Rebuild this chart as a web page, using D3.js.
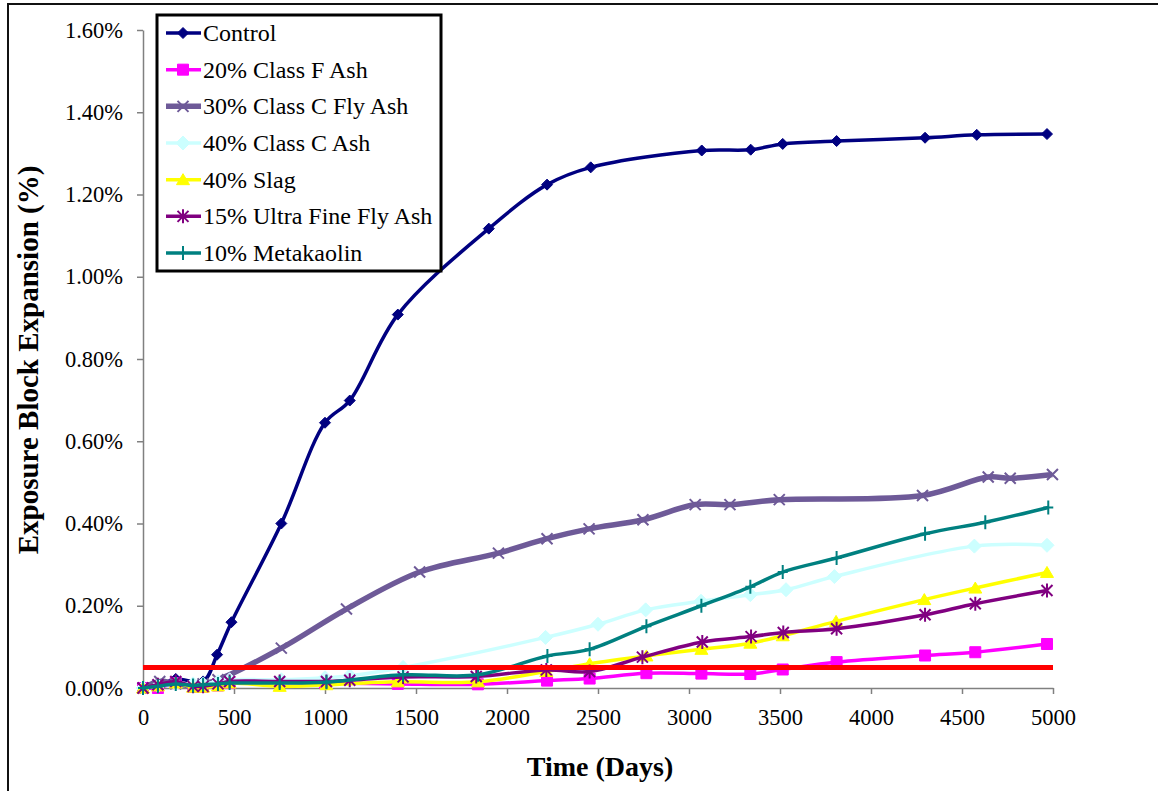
<!DOCTYPE html>
<html>
<head>
<meta charset="utf-8">
<script src="https://cdn.jsdelivr.net/npm/d3@7"></script>
<style>
body { margin: 0; background: #fff; }
svg { display: block; }
svg text { font-family: "Liberation Serif", "Times New Roman", "DejaVu Serif", serif; }
</style>
</head>
<body>
<svg id="chart" width="1158" height="791"></svg>
<script>
// legend / series names
var seriesNames = ["Control", "20% Class F Ash", "30% Class C Fly Ash", "40% Class C Ash",
                   "40% Slag", "15% Ultra Fine Fly Ash", "10% Metakaolin"];

// days and expansion (%)
var controlDays = [0, 82, 180, 330, 407, 486, 760, 1000, 1136, 1400, 1900, 2220, 2460, 3070, 3339, 3515, 3811, 4297, 4581, 4967];
var controlVals = [0, 0.006, 0.022, 0.016, 0.081, 0.160, 0.400, 0.645, 0.699, 0.908, 1.117, 1.224, 1.266, 1.307, 1.309, 1.323, 1.330, 1.338, 1.345, 1.347];

var classFDays = [0, 82, 180, 275, 330, 412, 476, 1000, 1400, 1840, 2220, 2454, 2766, 3068, 3337, 3515, 3811, 4297, 4573, 4967];
var classFVals = [0, 0, 0.012, 0.003, 0.003, 0.006, 0.012, 0.012, 0.010, 0.009, 0.018, 0.023, 0.036, 0.035, 0.034, 0.045, 0.063, 0.079, 0.087, 0.107];

var classC30Days = [0, 92, 180, 275, 330, 412, 760, 1118, 1520, 1953, 2220, 2451, 2747, 3034, 3225, 3496, 4283, 4644, 4765, 4997];
var classC30Vals = [0, 0.016, 0.010, 0.005, 0.010, 0.020, 0.097, 0.192, 0.282, 0.328, 0.363, 0.387, 0.409, 0.446, 0.446, 0.458, 0.468, 0.513, 0.510, 0.519];

var classC40Days = [0, 82, 180, 275, 330, 412, 476, 760, 1000, 1136, 1429, 2212, 2500, 2762, 3066, 3337, 3533, 3799, 4568, 4967];
var classC40Vals = [0, 0.005, 0.010, 0.010, 0.010, 0.015, 0.020, 0.020, 0.025, 0.030, 0.050, 0.123, 0.155, 0.190, 0.211, 0.227, 0.239, 0.271, 0.345, 0.347];

var slagDays = [0, 82, 180, 275, 330, 412, 476, 751, 1008, 1400, 1841, 2216, 2454, 2766, 3068, 3337, 3515, 3808, 4293, 4573, 4967];
var slagVals = [0, 0.005, 0.012, 0.002, 0.002, 0.005, 0.012, 0.004, 0.008, 0.015, 0.015, 0.040, 0.059, 0.078, 0.094, 0.109, 0.127, 0.162, 0.215, 0.243, 0.281];

var ultraDays = [0, 82, 180, 275, 330, 412, 476, 751, 1008, 1136, 1429, 1831, 2216, 2454, 2744, 3073, 3341, 3518, 3811, 4297, 4573, 4967];
var ultraVals = [0, 0.008, 0.016, 0.004, 0.004, 0.010, 0.016, 0.016, 0.016, 0.019, 0.027, 0.028, 0.044, 0.040, 0.075, 0.112, 0.125, 0.135, 0.144, 0.178, 0.205, 0.237];

var metaDays = [0, 82, 180, 275, 330, 412, 476, 751, 1008, 1429, 1841, 2222, 2454, 2766, 3068, 3337, 3515, 3811, 4297, 4628, 4974];
var metaVals = [0, 0.004, 0.010, 0.006, 0.008, 0.010, 0.012, 0.012, 0.014, 0.032, 0.032, 0.078, 0.094, 0.150, 0.200, 0.246, 0.282, 0.316, 0.375, 0.403, 0.439];

var limitValue = 0.05;   // red reference line

var xTicks = [0, 500, 1000, 1500, 2000, 2500, 3000, 3500, 4000, 4500, 5000];
var yTicks = [0, 0.2, 0.4, 0.6, 0.8, 1.0, 1.2, 1.4, 1.6];

var seriesColors = ["#000080", "#FF00FF", "#6E5A98", "#CCFFFF", "#FFFF00", "#800080", "#008080"];
var seriesWidths = [3.5, 3.5, 5.5, 3.5, 3.5, 3.5, 3.5];
var markerKinds = ["diamond", "square", "x", "bigdiamond", "triangle", "star", "plus"];

var allDays = [controlDays, classFDays, classC30Days, classC40Days, slagDays, ultraDays, metaDays];
var allVals = [controlVals, classFVals, classC30Vals, classC40Vals, slagVals, ultraVals, metaVals];

var serif = "'Liberation Serif', 'Times New Roman', 'DejaVu Serif', serif";

var svg = d3.select("#chart"),
    margin = {top: 30, right: 105, bottom: 103, left: 143},
    width = 910,
    height = 658;

// chart area frame
svg.append("rect")
    .attr("x", 8).attr("y", 4)
    .attr("width", 1170).attr("height", 800)
    .attr("fill", "none").attr("stroke", "#111").attr("stroke-width", 2);

var x = d3.scaleLinear().domain([0, 5000]).range([0, width]),
    y = d3.scaleLinear().domain([0, 1.6]).range([height, 0]);

var g = svg.append("g")
    .attr("transform", "translate(" + margin.left + "," + margin.top + ")");

var xAxis = d3.axisBottom(x).tickValues(xTicks).tickSize(6).tickSizeOuter(0).tickPadding(15)
    .tickFormat(d3.format("d"));
var yAxis = d3.axisLeft(y).tickValues(yTicks).tickSize(6).tickSizeOuter(0).tickPadding(14)
    .tickFormat(function(d) { return d.toFixed(2) + "%"; });

g.append("g")
    .attr("class", "axis axis--x")
    .attr("transform", "translate(0," + height + ")")
    .call(xAxis);

g.append("g")
    .attr("class", "axis axis--y")
    .call(yAxis);

g.selectAll(".axis")
    .attr("font-family", serif)
    .attr("font-size", 22.5);
g.selectAll(".axis path, .axis line")
    .attr("stroke", "#808080")
    .attr("stroke-width", 1.5);
g.selectAll(".axis text")
    .attr("fill", "#000")
    .attr("font-family", serif);

// axis titles
svg.append("text")
    .attr("x", 600).attr("y", 776)
    .attr("text-anchor", "middle")
    .attr("font-family", serif)
    .attr("font-size", 28).attr("font-weight", "bold")
    .text("Time (Days)");

svg.append("text")
    .attr("transform", "translate(38,360) rotate(-90)")
    .attr("text-anchor", "middle")
    .attr("font-family", serif)
    .attr("font-size", 29).attr("font-weight", "bold")
    .text("Exposure Block Expansion (%)");

function markerPath(kind) {
  if (kind == "diamond") return "M0,-5.5L5.5,0L0,5.5L-5.5,0Z";
  if (kind == "bigdiamond") return "M0,-7L7,0L0,7L-7,0Z";
  if (kind == "square") return "M-5.5,-5.5H5.5V5.5H-5.5Z";
  if (kind == "triangle") return "M0,-6L6.5,5L-6.5,5Z";
  if (kind == "x") return "M-5.5,-5.5L5.5,5.5M-5.5,5.5L5.5,-5.5";
  if (kind == "star") return "M-5.5,-5.5L5.5,5.5M-5.5,5.5L5.5,-5.5M0,-7V7";
  return "M-5,0H5M0,-7V7";
}

function drawMarker(sel, kind, color) {
  var filled = (kind == "diamond" || kind == "bigdiamond" || kind == "square" || kind == "triangle");
  sel.append("path")
    .attr("d", markerPath(kind))
    .attr("fill", filled ? color : "none")
    .attr("stroke", color)
    .attr("stroke-width", filled ? 1 : 2);
}

var line = d3.line()
    .x(function(d) { return x(d[0]); })
    .y(function(d) { return y(d[1]); })
    .curve(d3.curveCatmullRom.alpha(0.5));

var plot = g.append("g");

seriesNames.forEach(function(name, i) {
  var pts = allDays[i].map(function(d, j) { return [d, allVals[i][j]]; });
  var sg = plot.append("g").attr("class", "series");
  sg.append("path")
      .datum(pts)
      .attr("fill", "none")
      .attr("stroke", seriesColors[i])
      .attr("stroke-width", seriesWidths[i])
      .attr("stroke-linejoin", "round")
      .attr("d", line);
  sg.selectAll(".mk")
    .data(pts)
    .enter().append("g")
      .attr("class", "mk")
      .attr("transform", function(d) { return "translate(" + x(d[0]) + "," + y(d[1]) + ")"; })
      .each(function() { drawMarker(d3.select(this), markerKinds[i], seriesColors[i]); });
});

// red limit line on top
g.append("line")
    .attr("x1", 0).attr("x2", x(5000))
    .attr("y1", y(limitValue)).attr("y2", y(limitValue))
    .attr("stroke", "#FF0000")
    .attr("stroke-width", 5);

// legend
var legend = svg.append("g");
legend.append("rect")
    .attr("x", 157).attr("y", 15)
    .attr("width", 284).attr("height", 256)
    .attr("fill", "#fff").attr("stroke", "#000").attr("stroke-width", 3);

var legendRow = d3.scaleLinear().domain([0, 6]).range([33, 253]);

seriesNames.forEach(function(name, i) {
  var row = legend.append("g")
      .attr("transform", "translate(0," + legendRow(i) + ")");
  row.append("line")
      .attr("x1", 166).attr("x2", 201)
      .attr("stroke", seriesColors[i])
      .attr("stroke-width", seriesWidths[i]);
  var mk = row.append("g").attr("transform", "translate(183,0)");
  drawMarker(mk, markerKinds[i], seriesColors[i]);
  row.append("text")
      .attr("x", 203).attr("y", 8)
      .attr("font-family", serif)
      .attr("font-size", 24)
      .text(name);
});
</script>
</body>
</html>
